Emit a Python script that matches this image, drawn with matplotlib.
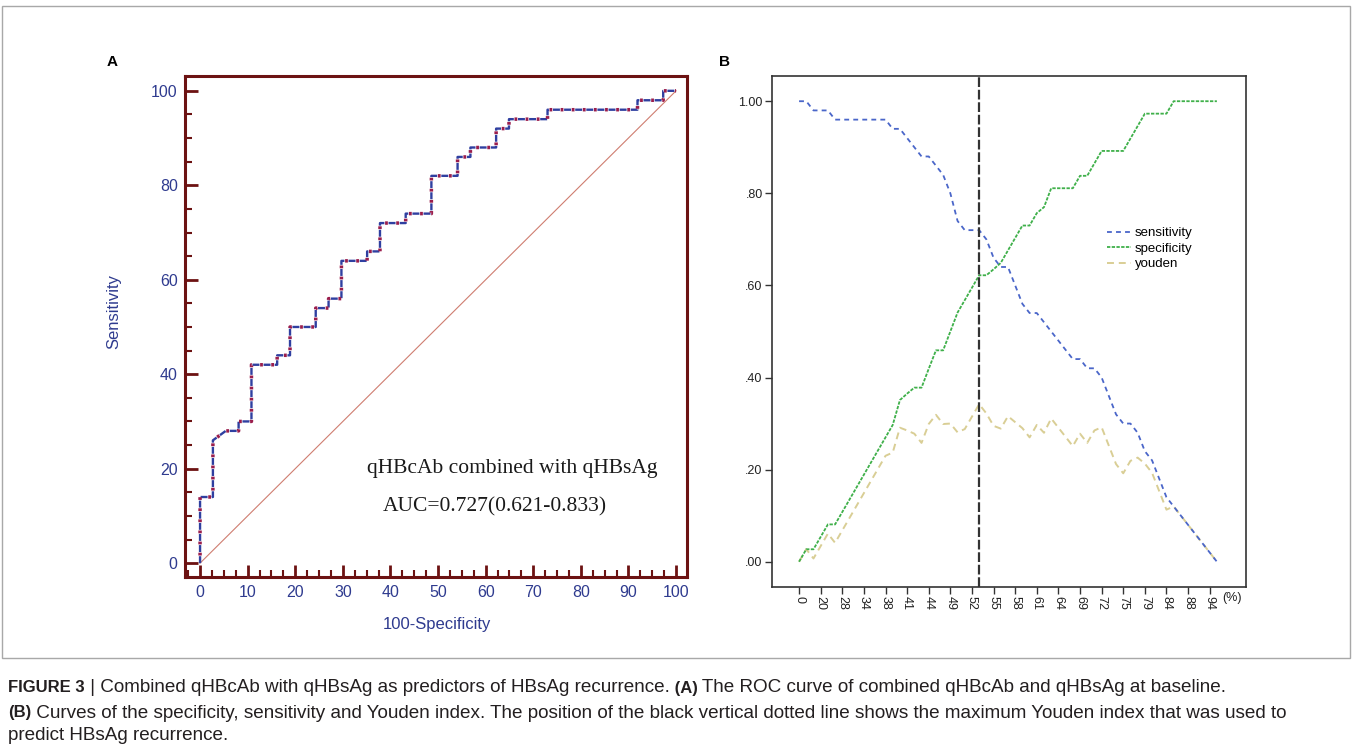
import numpy as np
import matplotlib
matplotlib.use('Agg')
import matplotlib.pyplot as plt
from matplotlib.ticker import MultipleLocator
from matplotlib.patches import Rectangle

plt.rcParams['font.family'] = ['Liberation Sans', 'DejaVu Sans']
plt.rcParams['lines.scale_dashes'] = False

# Panel A: ROC staircase, 100-specificity vs sensitivity (%)
roc_fpr = [0, 0, 2.7, 2.7, 5.4, 8.1, 8.1, 10.8, 10.8, 16.2, 16.2, 18.9, 18.9,
           24.3, 24.3, 27.0, 27.0, 29.7, 29.7, 35.1, 35.1, 37.8, 37.8, 43.2,
           43.2, 48.6, 48.6, 54.1, 54.1, 56.8, 56.8, 62.2, 62.2, 64.9, 64.9,
           73.0, 73.0, 91.9, 91.9, 97.3, 97.3, 100]
roc_tpr = [0, 14, 14, 26, 28, 28, 30, 30, 42, 42, 44, 44, 50,
           50, 54, 54, 56, 56, 64, 64, 66, 66, 72, 72,
           74, 74, 82, 82, 86, 86, 88, 88, 92, 92, 94,
           94, 96, 96, 98, 98, 100, 100]
roc_title = 'qHBcAb combined with qHBsAg'
auc_text = 'AUC=0.727(0.621-0.833)'

# Panel B: curves over the cut-off values (every third one labelled)
cutoff_labels = ['0', '20', '28', '34', '38', '41', '44', '49', '52', '55',
                 '58', '61', '64', '69', '72', '75', '79', '84', '88', '94']
sensitivity = [1.00, 1.00, 0.98, 0.98, 0.98, 0.96, 0.96, 0.96, 0.96, 0.96,
               0.96, 0.96, 0.96, 0.94, 0.94, 0.92, 0.90, 0.88, 0.88, 0.86,
               0.84, 0.80, 0.74, 0.72, 0.72, 0.72, 0.70, 0.66, 0.64, 0.64,
               0.60, 0.56, 0.54, 0.54, 0.52, 0.50, 0.48, 0.46, 0.44, 0.44,
               0.42, 0.42, 0.40, 0.36, 0.32, 0.30, 0.30, 0.28, 0.24, 0.22,
               0.18, 0.14, 0.12, 0.10, 0.08, 0.06, 0.04, 0.02, 0.00]
specificity = [0.000, 0.027, 0.027, 0.054, 0.081, 0.081, 0.108, 0.135, 0.162, 0.189,
               0.216, 0.243, 0.270, 0.297, 0.351, 0.365, 0.378, 0.378, 0.419, 0.459,
               0.459, 0.500, 0.541, 0.568, 0.595, 0.622, 0.622, 0.635, 0.649, 0.676,
               0.703, 0.730, 0.730, 0.757, 0.770, 0.811, 0.811, 0.811, 0.811, 0.838,
               0.838, 0.865, 0.892, 0.892, 0.892, 0.892, 0.919, 0.946, 0.973, 0.973,
               0.973, 0.973, 1.000, 1.000, 1.000, 1.000, 1.000, 1.000, 1.000]
youden = [0.000, 0.027, 0.007, 0.034, 0.061, 0.041, 0.068, 0.095, 0.122, 0.149,
          0.176, 0.203, 0.230, 0.237, 0.291, 0.285, 0.278, 0.258, 0.299, 0.319,
          0.299, 0.300, 0.281, 0.288, 0.315, 0.342, 0.322, 0.295, 0.289, 0.316,
          0.303, 0.290, 0.270, 0.297, 0.280, 0.311, 0.291, 0.271, 0.251, 0.278,
          0.258, 0.285, 0.292, 0.252, 0.212, 0.192, 0.219, 0.226, 0.213, 0.193,
          0.153, 0.113, 0.120, 0.100, 0.080, 0.060, 0.040, 0.020, 0.000]

W, H = 1352, 746
fig = plt.figure(figsize=(W / 100, H / 100), dpi=100)

# marco exterior
fig.patches.append(Rectangle((2 / W, 1 - 658 / H), 1348 / W, 652 / H,
                             transform=fig.transFigure, fill=False,
                             edgecolor='#a8a8a8', lw=1))

# ---------------- Panel A ----------------
maroon = '#6c1212'
navy = '#2f3b8f'
axA = fig.add_axes([185.3 / W, 1 - 577.3 / H, 501.7 / W, 501.6 / H])
axA.plot([0, 100], [0, 100], color='#cf7d70', lw=0.8)
axA.plot(roc_fpr, roc_tpr, color='#2f3fa0', lw=1.7, linestyle=(0, (5, 3)))
axA.plot(roc_fpr, roc_tpr, color='#9a1d4c', lw=2.5, linestyle=(2.5, (2, 6)))
axA.set_xlim(-3.1, 102.3)
axA.set_ylim(-3.0, 103.2)
axA.xaxis.set_major_locator(MultipleLocator(10))
axA.xaxis.set_minor_locator(MultipleLocator(2.5))
axA.yaxis.set_major_locator(MultipleLocator(20))
axA.yaxis.set_minor_locator(MultipleLocator(5))
for s in axA.spines.values():
    s.set_color(maroon)
    s.set_linewidth(2.2)
axA.tick_params(which='major', direction='in', length=9, width=2, color=maroon,
                labelcolor=navy, labelsize=11.5, pad=5.5)
axA.tick_params(which='minor', direction='in', length=5, width=1.5, color=maroon)
axA.set_xlabel('100-Specificity', color=navy, fontsize=12)
axA.set_ylabel('Sensitivity', color=navy, fontsize=12)
axA.xaxis.set_label_coords(0.501, -0.079)
axA.yaxis.set_label_coords(-0.128, 0.529)
axA.text(65.6, 20.1, roc_title, family=['Liberation Serif', 'DejaVu Serif'],
         fontsize=15.5, ha='center', va='center', color='#1a1a1a')
axA.text(61.9, 12.0, auc_text, family=['Liberation Serif', 'DejaVu Serif'],
         fontsize=15.5, ha='center', va='center', color='#1a1a1a')

# ---------------- Panel B ----------------
axB = fig.add_axes([771.7 / W, 1 - 587.3 / H, 474 / W, 511.6 / H])
idx = np.arange(len(sensitivity))
axB.plot(idx, youden, color='#d9ce95', lw=1.4, linestyle=(0, (5, 3.5)), label='youden')
axB.plot(idx, specificity, color='#3fb04a', lw=1.3, linestyle=(0, (2.4, 1)), label='specificity')
axB.plot(idx, sensitivity, color='#4a66c9', lw=1.3, linestyle=(0, (3.5, 3)), label='sensitivity')
best = int(np.argmax(youden))
axB.axvline(best, color='#333333', lw=1.6, linestyle=(0, (7, 2)))
axB.set_xlim(-3.8, 62.0)
axB.set_ylim(-0.0556, 1.0554)
axB.set_yticks([0, 0.2, 0.4, 0.6, 0.8, 1.0])
axB.set_yticklabels(['.00', '.20', '.40', '.60', '.80', '1.00'])
axB.set_xticks(idx[::3])
axB.set_xticklabels(cutoff_labels, rotation=-90)
for s in axB.spines.values():
    s.set_color('#333333')
    s.set_linewidth(1.2)
axB.tick_params(direction='out', length=5, width=1, color='#333333',
                labelcolor='#222222', labelsize=9, pad=1.5)
h, l = axB.get_legend_handles_labels()
axB.legend(h[::-1], l[::-1], loc='upper left', bbox_to_anchor=(1107 / W, 1 - 227 / H),
           bbox_transform=fig.transFigure, frameon=False, fontsize=9.5,
           handlelength=1.8, handletextpad=0.3, labelspacing=0.25,
           borderpad=0, borderaxespad=0)
fig.text(1222 / W, 1 - 598 / H, '(%)', ha='left', va='center', fontsize=9, color='#222222')

# letras de panel
fig.text(112 / W, 1 - 62 / H, 'A', fontweight='bold', fontsize=11, ha='center', va='center')
fig.text(724 / W, 1 - 62 / H, 'B', fontweight='bold', fontsize=11, ha='center', va='center')

# pie de figura
renderer = fig.canvas.get_renderer()


def caption_line(y_px, parts):
    x = 8
    for txt, bold in parts:
        t = fig.text(x / W, 1 - y_px / H, txt, ha='left', va='center',
                     fontsize=12 if bold else 13.6,
                     fontweight='bold' if bold else 'normal', color='#231f20')
        x += t.get_window_extent(renderer=renderer).width


caption_line(688, [('FIGURE 3', True),
                   (' | Combined qHBcAb with qHBsAg as predictors of HBsAg recurrence.', False),
                   (' (A)', True),
                   (' The ROC curve of combined qHBcAb and qHBsAg at baseline.', False)])
caption_line(713, [('(B)', True),
                   (' Curves of the specificity, sensitivity and Youden index. The position of '
                    'the black vertical dotted line shows the maximum Youden index that was used to',
                    False)])
caption_line(735, [('predict HBsAg recurrence.', False)])

fig.savefig('out.png', dpi=100)
